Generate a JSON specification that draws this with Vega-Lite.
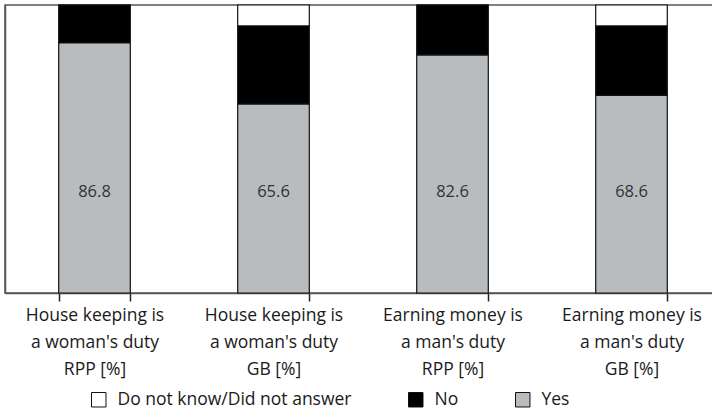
{
  "$schema": "https://vega.github.io/schema/vega-lite/v6.json",
  "autosize": "none",
  "width": 716,
  "height": 288,
  "padding": {"left": 5, "top": 5, "right": 0, "bottom": 117},
  "background": "white",
  "config": {
    "font": "Open Sans",
    "view": {"stroke": "#555555", "strokeWidth": 1.5}
  },
  "data": {
    "values": [
      {"cat": "House keeping is|a woman's duty|RPP [%]", "resp": "Do not know/Did not answer", "ord": 0, "val": 0},
      {"cat": "House keeping is|a woman's duty|RPP [%]", "resp": "No", "ord": 1, "val": 13.2},
      {"cat": "House keeping is|a woman's duty|RPP [%]", "resp": "Yes", "ord": 2, "val": 86.8},
      {"cat": "House keeping is|a woman's duty|GB [%]", "resp": "Do not know/Did not answer", "ord": 0, "val": 7.3},
      {"cat": "House keeping is|a woman's duty|GB [%]", "resp": "No", "ord": 1, "val": 27.1},
      {"cat": "House keeping is|a woman's duty|GB [%]", "resp": "Yes", "ord": 2, "val": 65.6},
      {"cat": "Earning money is|a man's duty|RPP [%]", "resp": "Do not know/Did not answer", "ord": 0, "val": 0},
      {"cat": "Earning money is|a man's duty|RPP [%]", "resp": "No", "ord": 1, "val": 17.4},
      {"cat": "Earning money is|a man's duty|RPP [%]", "resp": "Yes", "ord": 2, "val": 82.6},
      {"cat": "Earning money is|a man's duty|GB [%]", "resp": "Do not know/Did not answer", "ord": 0, "val": 7.3},
      {"cat": "Earning money is|a man's duty|GB [%]", "resp": "No", "ord": 1, "val": 24.1},
      {"cat": "Earning money is|a man's duty|GB [%]", "resp": "Yes", "ord": 2, "val": 68.6}
    ]
  },
  "encoding": {
    "x": {
      "field": "cat",
      "type": "nominal",
      "sort": null,
      "scale": {"paddingInner": 0.6, "paddingOuter": 0.3},
      "axis": {
        "title": null,
        "labelAngle": 0,
        "labelExpr": "split(datum.label, '|')",
        "labelFontSize": 17.5,
        "labelLineHeight": 27,
        "labelColor": "#1a1a1a",
        "labelPadding": 5,
        "labelLimit": 220,
        "domainColor": "#555555",
        "domainWidth": 1.5,
        "tickColor": "#222222",
        "tickSize": 8,
        "tickBand": "extent",
        "tickWidth": 1.5
      }
    }
  },
  "layer": [
    {
      "mark": {"type": "bar", "stroke": "#111111", "strokeWidth": 1.2},
      "encoding": {
        "y": {
          "field": "val",
          "type": "quantitative",
          "stack": "zero",
          "scale": {"domain": [0, 100], "nice": false},
          "axis": {"title": null, "labels": false, "ticks": false, "grid": false, "domainColor": "#555555", "domainWidth": 1.5}
        },
        "order": {"field": "ord", "sort": "descending"},
        "color": {
          "field": "resp",
          "type": "nominal",
          "scale": {
            "domain": ["Do not know/Did not answer", "No", "Yes"],
            "range": ["#ffffff", "#000000", "#b8bcbe"]
          },
          "legend": {
            "title": null,
            "orient": "none",
            "legendX": 85,
            "legendY": 386,
            "direction": "horizontal",
            "symbolType": "square",
            "symbolSize": 210,
            "symbolStrokeColor": "#111111",
            "symbolStrokeWidth": 1,
            "labelFontSize": 17.5,
            "labelLimit": 400,
            "labelColor": "#1a1a1a",
            "columnPadding": 54,
            "labelOffset": 10
          }
        }
      }
    },
    {
      "transform": [{"filter": "datum.resp === 'Yes'"}],
      "mark": {"type": "text", "fontSize": 16.5, "color": "#333333"},
      "encoding": {
        "y": {"datum": 35},
        "text": {"field": "val", "type": "quantitative", "format": ".1f"}
      }
    }
  ]
}
